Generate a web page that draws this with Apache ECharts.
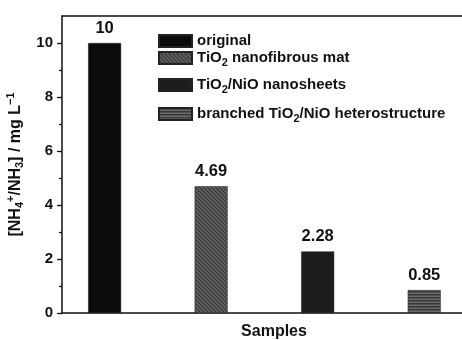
<!DOCTYPE html>
<html><head><meta charset="utf-8">
<script src="https://cdn.jsdelivr.net/npm/echarts@6/dist/echarts.min.js"></script>
<style>html,body{margin:0;padding:0;background:#fff}#c{width:462px;height:340px}</style>
</head><body><div id="c"></div>
<script>
// ---- data ----
var seriesNames = ['original', 'TiO2 nanofibrous mat', 'TiO2/NiO nanosheets', 'branched TiO2/NiO heterostructure'];
var legendLabels = ['original', 'TiO{sub|2} nanofibrous mat', 'TiO{sub|2}/NiO nanosheets', 'branched TiO{sub|2}/NiO heterostructure'];
var values = [10, 4.69, 2.28, 0.85];
var valueLabels = ['10', '4.69', '2.28', '0.85'];
var yMajorTicks = [0, 2, 4, 6, 8, 10];
var yMinorTicks = [0, 1, 2, 3, 4, 5, 6, 7, 8, 9, 10];

// ---- patterns ----
function mkPattern(w, h, draw) {
  var c = document.createElement('canvas'); c.width = w; c.height = h;
  var g = c.getContext('2d'); draw(g, w, h);
  return { image: c, repeat: 'repeat' };
}
var fills = [
  '#0b0b0b',
  mkPattern(4, 4, function (g, w, h) {
    g.fillStyle = '#5a5a5a'; g.fillRect(0, 0, w, h);
    g.strokeStyle = '#303030'; g.lineWidth = 1;
    g.beginPath(); g.moveTo(-1, -1); g.lineTo(w + 1, h + 1); g.stroke();
    g.beginPath(); g.moveTo(-1, h - 1); g.lineTo(1, h + 1); g.stroke();
    g.beginPath(); g.moveTo(w - 1, -1); g.lineTo(w + 1, 1); g.stroke();
  }),
  '#1d1d1d',
  mkPattern(4, 3, function (g, w, h) {
    g.fillStyle = '#6a6a6a'; g.fillRect(0, 0, w, h);
    g.fillStyle = '#383838'; g.fillRect(0, 0, w, 1.5);
  })
];

var FONT = 'Liberation Sans';
var rich = {
  sub: { fontSize: 11, fontWeight: 'bold', fontFamily: FONT, lineHeight: 8, verticalAlign: 'bottom', color: '#111' },
  sup: { fontSize: 11, fontWeight: 'bold', fontFamily: FONT, lineHeight: 10, verticalAlign: 'top', color: '#111' }
};
var legendTops = [31, 48, 75, 104];

var series = seriesNames.map(function (n, i) {
  return {
    name: n, type: 'bar', barWidth: 33, barGap: '-100%',
    data: [[i + 1, values[i]]],
    itemStyle: { color: fills[i], borderColor: '#222', borderWidth: 0.5 },
    label: {
      show: true, position: 'top', distance: 6,
      formatter: function () { return valueLabels[i]; },
      fontFamily: FONT, fontWeight: 'bold', fontSize: 16.5, color: '#111'
    }
  };
});

var legends = seriesNames.map(function (n, i) {
  return {
    data: [n], left: 158, top: legendTops[i], orient: 'vertical',
    itemWidth: 33, itemHeight: 12, icon: 'rect', padding: 0,
    formatter: function () { return legendLabels[i]; },
    textStyle: { fontFamily: FONT, fontWeight: 'bold', fontSize: 15, color: '#111', lineHeight: 20, rich: rich },
    selectedMode: false
  };
});

var chart = echarts.init(document.getElementById('c'), null, { renderer: 'canvas' });
chart.setOption({
  animation: false,
  backgroundColor: '#fff',
  grid: { left: 62, right: -24, top: 16, bottom: 27, outerBoundsMode: 'none', containLabel: false },
  legend: legends,
  xAxis: [{
    type: 'value', min: 0.6, max: 4.58, position: 'bottom',
    axisLine: { show: true, onZero: false, lineStyle: { color: '#111', width: 1.5 } },
    axisTick: { show: false }, axisLabel: { show: false }, splitLine: { show: false },
    name: 'Samples', nameLocation: 'middle', nameGap: 11,
    nameTextStyle: { fontFamily: FONT, fontWeight: 'bold', fontSize: 16, color: '#111', verticalAlign: 'top' }
  }, {
    type: 'value', min: 0.6, max: 4.58, position: 'top',
    axisLine: { show: true, onZero: false, lineStyle: { color: '#111', width: 1.5 } },
    axisTick: { show: false }, axisLabel: { show: false }, splitLine: { show: false }
  }],
  yAxis: [{
    type: 'value', min: 0, max: 11, position: 'left',
    axisLine: { show: true, lineStyle: { color: '#111', width: 1.5 } },
    axisTick: { show: true, customValues: yMajorTicks, length: 5, lineStyle: { color: '#111', width: 1.2 } },
    axisLabel: { customValues: yMajorTicks, margin: 9, fontFamily: FONT, fontWeight: 'bold', fontSize: 15, color: '#111' },
    splitLine: { show: false },
    name: '[NH{sub|4}{sup|+}/NH{sub|3}] / mg L{sup|−1}', nameLocation: 'middle', nameGap: 27, nameRotate: 90,
    nameTextStyle: { fontFamily: FONT, fontWeight: 'bold', fontSize: 16, color: '#111', lineHeight: 20, rich: rich }
  }, {
    type: 'value', min: 0, max: 11, position: 'left',
    axisLine: { show: false },
    axisTick: { show: true, customValues: yMinorTicks, length: 3, lineStyle: { color: '#111', width: 1.2 } },
    axisLabel: { show: false }, splitLine: { show: false }
  }],
  series: series
});
</script></body></html>
